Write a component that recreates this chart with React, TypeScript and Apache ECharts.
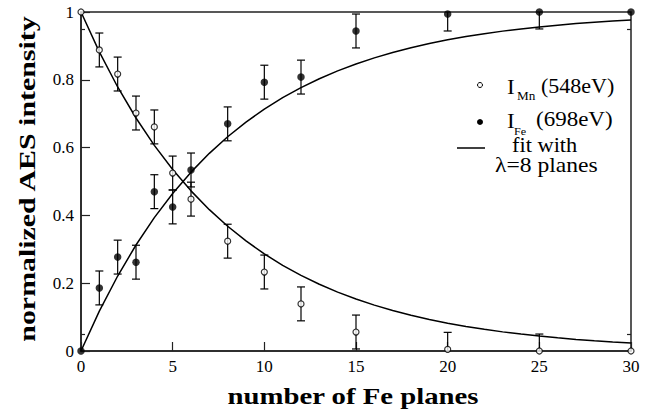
import React, { useEffect, useRef } from "react";
import * as echarts from "echarts";

const planes = [0, 1, 2, 3, 4, 5, 6, 8, 10, 12, 15, 20, 25, 30];
const mnIntensity = [1.0, 0.888, 0.817, 0.702, 0.661, 0.525, 0.448, 0.324, 0.233, 0.139, 0.056, 0.005, 0.0, 0.0];
const feIntensity = [0.0, 0.186, 0.277, 0.262, 0.47, 0.425, 0.534, 0.67, 0.793, 0.808, 0.944, 0.994, 1.0, 1.0];
const mnError = [0, 0.05, 0.05, 0.05, 0.05, 0.05, 0.05, 0.05, 0.05, 0.05, 0.05, 0.05, 0.05, 0];
const feError = [0, 0.05, 0.05, 0.05, 0.05, 0.05, 0.05, 0.05, 0.05, 0.05, 0.05, 0.05, 0.05, 0];

const fitPlanes = [0, 1, 2, 3, 4, 5, 6, 7, 8, 9, 10, 11, 12, 13, 14, 15, 16, 17, 18, 19, 20, 21, 22, 23, 24, 25, 26, 27, 28, 29, 30];
const mnFit = [1.0, 0.8825, 0.7788, 0.6873, 0.6065, 0.5353, 0.4724, 0.4169, 0.3679, 0.3247, 0.2865, 0.2528, 0.2231, 0.1969, 0.1738, 0.1534, 0.1353, 0.1194, 0.1054, 0.093, 0.0821, 0.0724, 0.0639, 0.0564, 0.0498, 0.0439, 0.0388, 0.0342, 0.0302, 0.0266, 0.0235];
const feFit = [0.0, 0.1175, 0.2212, 0.3127, 0.3935, 0.4647, 0.5276, 0.5831, 0.6321, 0.6753, 0.7135, 0.7472, 0.7769, 0.8031, 0.8262, 0.8466, 0.8647, 0.8806, 0.8946, 0.907, 0.9179, 0.9276, 0.9361, 0.9436, 0.9502, 0.9561, 0.9612, 0.9658, 0.9698, 0.9734, 0.9765];

const minorTickValues = [0.05, 0.95];

const SERIF = "Liberation Serif";
const INK = "#000";
const AXIS = "#222";

function errorBarSeries(values: number[], errors: number[]) {
  const data = planes
    .map((p, i) => [p, values[i] - errors[i], values[i] + errors[i], errors[i]])
    .filter((d) => d[3] > 0);
  return {
    type: "custom",
    clip: true,
    z: 3,
    data,
    renderItem: (_params: any, api: any) => {
      const x = api.value(0);
      const top = api.coord([x, api.value(2)]);
      const bot = api.coord([x, api.value(1)]);
      const w = 4;
      const st = { stroke: INK, lineWidth: 1.2 };
      return {
        type: "group",
        children: [
          { type: "line", shape: { x1: top[0], y1: top[1], x2: bot[0], y2: bot[1] }, style: st },
          { type: "line", shape: { x1: top[0] - w, y1: top[1], x2: top[0] + w, y2: top[1] }, style: st },
          { type: "line", shape: { x1: bot[0] - w, y1: bot[1], x2: bot[0] + w, y2: bot[1] }, style: st },
        ],
      };
    },
  };
}

export default function App() {
  const ref = useRef<HTMLDivElement>(null);
  useEffect(() => {
    if (!ref.current) return;
    const chart = echarts.init(ref.current, null, { renderer: "svg" });
    const legendFont = (size: number) => ({ fontFamily: SERIF, fontSize: size, fill: INK });
    chart.setOption({
      animation: false,
      backgroundColor: "#fff",
      textStyle: { fontFamily: SERIF },
      grid: { left: 81, right: 24, top: 12, bottom: 62, show: true, borderColor: AXIS, borderWidth: 1.5, backgroundColor: "transparent" },
      xAxis: {
        type: "value",
        min: 0,
        max: 30,
        interval: 5,
        axisLine: { show: true, onZero: false, lineStyle: { color: AXIS, width: 1.5 } },
        axisTick: { show: true, inside: true, length: 9, lineStyle: { color: AXIS, width: 1.2 } },
        axisLabel: { color: INK, fontFamily: SERIF, fontSize: 17, margin: 7 },
        splitLine: { show: false },
      },
      yAxis: [
        {
          type: "value",
          min: 0,
          max: 1,
          interval: 0.2,
          position: "left",
          axisLine: { show: true, onZero: false, lineStyle: { color: AXIS, width: 1.5 } },
          axisTick: { show: true, inside: true, length: 9, lineStyle: { color: AXIS, width: 1.2 } },
          axisLabel: { color: INK, fontFamily: SERIF, fontSize: 17, margin: 7 },
          splitLine: { show: false },
        },
        {
          type: "value",
          min: 0,
          max: 1,
          position: "left",
          axisLine: { show: false },
          axisTick: { show: true, inside: true, length: 4, customValues: minorTickValues, lineStyle: { color: AXIS, width: 1.2 } },
          axisLabel: { show: false },
          splitLine: { show: false },
        },
        {
          type: "value",
          min: 0,
          max: 1,
          position: "right",
          axisLine: { show: false },
          axisTick: { show: true, inside: true, length: 4, customValues: minorTickValues, lineStyle: { color: AXIS, width: 1.2 } },
          axisLabel: { show: false },
          splitLine: { show: false },
        },
      ],
      series: [
        {
          type: "line",
          name: "Mn fit",
          data: fitPlanes.map((p, i) => [p, mnFit[i]]),
          showSymbol: false,
          symbol: "none",
          lineStyle: { color: INK, width: 1.5 },
          z: 2,
        },
        {
          type: "line",
          name: "Fe fit",
          data: fitPlanes.map((p, i) => [p, feFit[i]]),
          showSymbol: false,
          symbol: "none",
          lineStyle: { color: INK, width: 1.5 },
          z: 2,
        },
        errorBarSeries(mnIntensity, mnError),
        errorBarSeries(feIntensity, feError),
        {
          type: "scatter",
          name: "I Mn (548eV)",
          data: planes.map((p, i) => [p, mnIntensity[i]]),
          symbol: "circle",
          symbolSize: 6,
          itemStyle: { color: "#fff", borderColor: INK, borderWidth: 1.2 },
          clip: false,
          z: 5,
        },
        {
          type: "scatter",
          name: "I Fe (698eV)",
          data: planes.map((p, i) => [p, feIntensity[i]]),
          symbol: "circle",
          symbolSize: 7.5,
          itemStyle: { color: INK },
          clip: false,
          z: 5,
        },
      ],
      graphic: [
        { type: "circle", shape: { cx: 480, cy: 85, r: 2.5 }, style: { fill: "#fff", stroke: INK, lineWidth: 1 } },
        { type: "circle", shape: { cx: 480, cy: 122, r: 3 }, style: { fill: INK } },
        { type: "line", shape: { x1: 457, y1: 148, x2: 485, y2: 148 }, style: { stroke: INK, lineWidth: 1.5 } },
        { type: "text", x: 507, y: 87, scaleX: 1.1, style: { text: "I", ...legendFont(21), align: "left", verticalAlign: "middle" } },
        { type: "text", x: 517, y: 96, scaleX: 1.1, style: { text: "Mn", ...legendFont(12), align: "left", verticalAlign: "middle" } },
        { type: "text", x: 541, y: 86, scaleX: 1.1, style: { text: "(548eV)", ...legendFont(20), align: "left", verticalAlign: "middle" } },
        { type: "text", x: 507, y: 121, scaleX: 1.1, style: { text: "I", ...legendFont(21), align: "left", verticalAlign: "middle" } },
        { type: "text", x: 514, y: 132, scaleX: 1.1, style: { text: "Fe", ...legendFont(11), align: "left", verticalAlign: "middle" } },
        { type: "text", x: 536, y: 120, scaleX: 1.15, style: { text: "(698eV)", ...legendFont(20), align: "left", verticalAlign: "middle" } },
        { type: "text", x: 512, y: 145, scaleX: 1.12, style: { text: "fit with", ...legendFont(20), align: "left", verticalAlign: "middle" } },
        { type: "text", x: 495, y: 166, scaleX: 1.18, style: { text: "λ=8 planes", ...legendFont(20), align: "left", verticalAlign: "middle" } },
        {
          type: "text",
          x: 353,
          y: 396,
          scaleX: 1.25,
          style: { text: "number of Fe planes", fontFamily: SERIF, fontWeight: "bold", fontSize: 23, fill: INK, align: "center", verticalAlign: "middle" },
        },
        {
          type: "text",
          x: 27,
          y: 179,
          rotation: Math.PI / 2,
          scaleX: 1.3,
          style: { text: "normalized AES intensity", fontFamily: SERIF, fontWeight: "bold", fontSize: 23, fill: INK, align: "center", verticalAlign: "middle" },
        },
      ],
    });
    return () => chart.dispose();
  }, []);
  return <div ref={ref} style={{ position: "fixed", left: 0, top: 0, width: 655, height: 413 }} />;
}
